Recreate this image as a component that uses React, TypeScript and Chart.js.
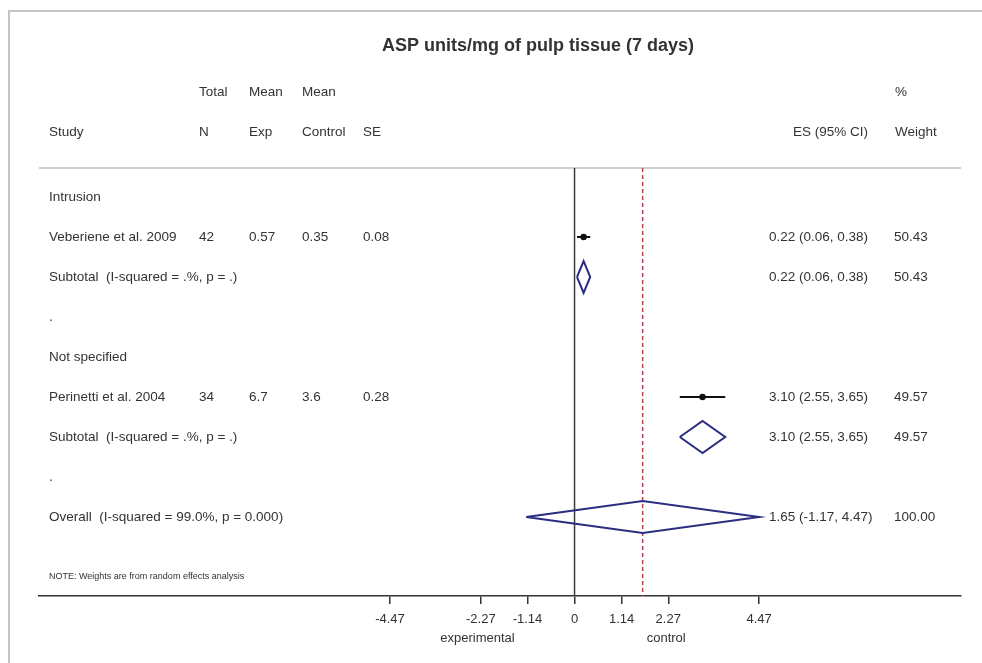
import { useEffect, useRef } from "react";
import { Chart, registerables } from "chart.js";

Chart.register(...registerables);

// ---------- data ----------
const chartTitle = "ASP units/mg of pulp tissue (7 days)";
const headerTop = ["", "Total", "Mean", "Mean", "", "", "%"];
const headerBottom = ["Study", "N", "Exp", "Control", "SE", "ES (95% CI)", "Weight"];
const subgroups = ["Intrusion", "Not specified"];
const studyNames = ["Veberiene et al. 2009", "Perinetti et al. 2004"];
const studyGroup = [0, 1];
const totalN = ["42", "34"];
const meanExp = ["0.57", "6.7"];
const meanControl = ["0.35", "3.6"];
const studySE = ["0.08", "0.28"];
const studyES = [0.22, 3.1];
const studyLo = [0.06, 2.55];
const studyHi = [0.38, 3.65];
const studyWeight = [50.43, 49.57];
const subtotalLabel = "Subtotal  (I-squared = .%, p = .)";
const subtotalES = [0.22, 3.1];
const subtotalLo = [0.06, 2.55];
const subtotalHi = [0.38, 3.65];
const subtotalWeight = [50.43, 49.57];
const overallLabel = "Overall  (I-squared = 99.0%, p = 0.000)";
const overallES = 1.65;
const overallLo = -1.17;
const overallHi = 4.47;
const overallWeight = 100.0;
const tickValues = [-4.47, -2.27, -1.14, 0, 1.14, 2.27, 4.47];
const favourLabels = ["experimental", "control"];
const favourAt = [-2.35, 2.22];
const noteText = "NOTE: Weights are from random effects analysis";

// ---------- layout / style ----------
const FONT = "'Liberation Sans', Arial, Helvetica, sans-serif";
const TEXT = "#333333";
const NAVY = "#2b2d80";
const RED = "#b8434f";
const X_MIN = -12.97;
const X_MAX = 9.36;
const COLS = [49, 199, 249, 302, 363, 769, 894];
const HDR_COLS = [49, 199, 249, 302, 363, 793, 895];
const DIAMOND_H = 0.4;

type Row = { kind: "group" | "study" | "subtotal" | "blank" | "overall"; label: string; idx: number };
const rows: Row[] = [];
subgroups.forEach((g, gi) => {
  rows.push({ kind: "group", label: g, idx: gi });
  studyNames.forEach((s, si) => {
    if (studyGroup[si] === gi) rows.push({ kind: "study", label: s, idx: si });
  });
  rows.push({ kind: "subtotal", label: subtotalLabel, idx: gi });
  rows.push({ kind: "blank", label: ".", idx: gi });
});
rows.push({ kind: "overall", label: overallLabel, idx: 0 });

const Y_MIN = -0.725;
const Y_MAX = rows.length + 0.975;

const ciText = (e: number, l: number, h: number) =>
  `${e.toFixed(2)} (${l.toFixed(2)}, ${h.toFixed(2)})`;

function diamond(e: number, l: number, h: number, r: number) {
  return [
    { x: l, y: r },
    { x: e, y: r - DIAMOND_H },
    { x: h, y: r },
    { x: e, y: r + DIAMOND_H },
    { x: l, y: r },
  ];
}

export default function App() {
  const ref = useRef<HTMLCanvasElement | null>(null);

  useEffect(() => {
    if (!ref.current) return;
    const datasets: any[] = [];

    rows.forEach((row, r) => {
      if (row.kind === "study") {
        const i = row.idx;
        datasets.push({
          data: [{ x: studyES[i], y: r }],
          pointStyle: "circle",
          pointRadius: 3.2,
          backgroundColor: "#111",
          borderWidth: 0,
          clip: false,
        });
        datasets.push({
          data: [
            { x: studyLo[i], y: r },
            { x: studyHi[i], y: r },
          ],
          showLine: true,
          borderColor: "#111",
          borderWidth: 2,
          pointRadius: 0,
          clip: false,
        });
      } else if (row.kind === "subtotal") {
        const g = row.idx;
        datasets.push({
          data: diamond(subtotalES[g], subtotalLo[g], subtotalHi[g], r),
          showLine: true,
          borderColor: NAVY,
          borderWidth: 2,
          borderJoinStyle: "miter",
          pointRadius: 0,
          fill: false,
          clip: false,
        });
      } else if (row.kind === "overall") {
        datasets.push({
          data: diamond(overallES, overallLo, overallHi, r),
          showLine: true,
          borderColor: NAVY,
          borderWidth: 2,
          borderJoinStyle: "miter",
          pointRadius: 0,
          fill: false,
          clip: false,
        });
      }
    });

    // overall effect dashed line
    datasets.push({
      data: [
        { x: overallES, y: Y_MIN },
        { x: overallES, y: Y_MAX },
      ],
      showLine: true,
      borderColor: RED,
      borderWidth: 1.5,
      borderDash: [4, 3],
      pointRadius: 0,
      clip: false,
    });
    // null line
    datasets.push({
      data: [
        { x: 0, y: Y_MIN },
        { x: 0, y: Y_MAX },
      ],
      showLine: true,
      borderColor: "#3a3a3a",
      borderWidth: 1.5,
      pointRadius: 0,
      clip: false,
    });
    // header separator
    datasets.push({
      data: [
        { x: X_MIN, y: Y_MIN },
        { x: X_MAX, y: Y_MIN },
      ],
      showLine: true,
      borderColor: "#c2c2c2",
      borderWidth: 1.5,
      pointRadius: 0,
      clip: false,
    });

    const textPlugin = {
      id: "forestText",
      beforeDraw(chart: any) {
        const ctx = chart.ctx;
        ctx.save();
        ctx.strokeStyle = "#c4c4c4";
        ctx.lineWidth = 2;
        ctx.beginPath();
        ctx.moveTo(9, chart.height + 5);
        ctx.lineTo(9, 11);
        ctx.lineTo(chart.width + 5, 11);
        ctx.stroke();
        ctx.restore();
      },
      afterDraw(chart: any) {
        const ctx = chart.ctx;
        const ys = chart.scales.y;
        const xs = chart.scales.x;
        ctx.save();
        ctx.fillStyle = TEXT;
        ctx.textBaseline = "middle";
        ctx.textAlign = "left";

        // title
        ctx.font = `bold 18px ${FONT}`;
        ctx.textAlign = "center";
        ctx.fillText(chartTitle, 538, 46);
        ctx.textAlign = "left";

        ctx.font = `13.5px ${FONT}`;
        const h1 = ys.getPixelForValue(-2.625);
        const h2 = ys.getPixelForValue(-1.625);
        headerTop.forEach((t, i) => {
          if (t) ctx.fillText(t, HDR_COLS[i], h1);
        });
        headerBottom.forEach((t, i) => {
          if (t) ctx.fillText(t, HDR_COLS[i], h2);
        });

        rows.forEach((row, r) => {
          const y = ys.getPixelForValue(r);
          ctx.fillText(row.label, COLS[0], y);
          if (row.kind === "study") {
            const i = row.idx;
            ctx.fillText(totalN[i], COLS[1], y);
            ctx.fillText(meanExp[i], COLS[2], y);
            ctx.fillText(meanControl[i], COLS[3], y);
            ctx.fillText(studySE[i], COLS[4], y);
            ctx.fillText(ciText(studyES[i], studyLo[i], studyHi[i]), COLS[5], y);
            ctx.fillText(studyWeight[i].toFixed(2), COLS[6], y);
          } else if (row.kind === "subtotal") {
            const g = row.idx;
            ctx.fillText(ciText(subtotalES[g], subtotalLo[g], subtotalHi[g]), COLS[5], y);
            ctx.fillText(subtotalWeight[g].toFixed(2), COLS[6], y);
          } else if (row.kind === "overall") {
            ctx.fillText(ciText(overallES, overallLo, overallHi), COLS[5], y);
            ctx.fillText(overallWeight.toFixed(2), COLS[6], y);
          }
        });

        ctx.font = `9px ${FONT}`;
        ctx.fillText(noteText, COLS[0], ys.getPixelForValue(rows.length + 0.5));

        ctx.font = `13px ${FONT}`;
        ctx.textAlign = "center";
        favourLabels.forEach((t, i) => {
          ctx.fillText(t, xs.getPixelForValue(favourAt[i]), chart.chartArea.bottom + 42);
        });
        ctx.restore();
      },
    };

    const chart = new Chart(ref.current, {
      type: "scatter",
      data: { datasets },
      options: {
        animation: false,
        responsive: false,
        events: [],
        layout: { padding: { left: 39, right: 21, top: 168, bottom: 0 } },
        plugins: { legend: { display: false }, tooltip: { enabled: false }, title: { display: false } },
        scales: {
          x: {
            type: "linear",
            min: X_MIN,
            max: X_MAX,
            afterBuildTicks: (s: any) => {
              s.ticks = tickValues.map((v) => ({ value: v }));
            },
            afterFit: (s: any) => {
              s.height = 67;
            },
            grid: {
              display: true,
              drawOnChartArea: false,
              drawTicks: true,
              tickLength: 8,
              color: "#333",
              lineWidth: 1.5,
            },
            border: { display: true, color: "#333", width: 1.5 },
            ticks: {
              autoSkip: false,
              maxRotation: 0,
              minRotation: 0,
              padding: 8,
              color: TEXT,
              font: { family: FONT, size: 13 },
              callback: (v: any) => (Number(v) === 0 ? "0" : Number(v).toFixed(2)),
            },
          },
          y: {
            type: "linear",
            display: false,
            reverse: true,
            min: Y_MIN,
            max: Y_MAX,
          },
        },
      } as any,
      plugins: [textPlugin],
    });
    return () => chart.destroy();
  }, []);

  return (
    <div style={{ position: "fixed", left: 0, top: 0, width: 982, height: 663, background: "#fff" }}>
      <canvas ref={ref} width={982} height={663} style={{ width: 982, height: 663, display: "block" }} />
    </div>
  );
}
